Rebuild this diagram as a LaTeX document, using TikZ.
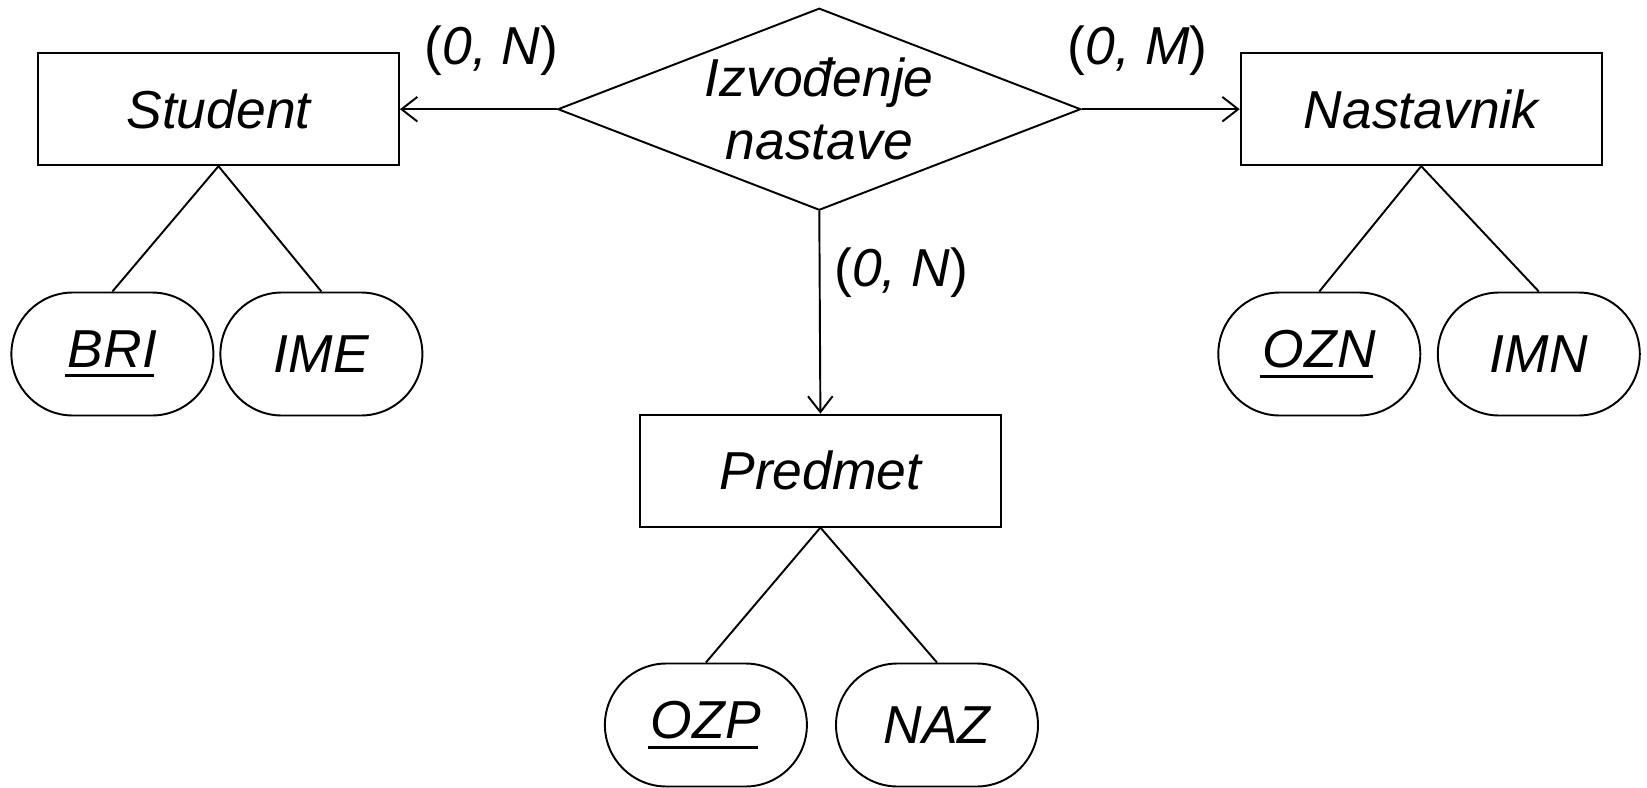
\documentclass[tikz,border=0pt]{standalone}
\usepackage{fontspec}
\setmainfont{Liberation Sans}
\usepackage{tikz}
\usetikzlibrary{shapes.misc, shapes.geometric, arrows.meta}
% underlined key attribute
\newcommand{\keyattr}[1]{\setbox0\hbox{#1}\rlap{\hspace{-0.05em}\rule[-2.9pt]{\wd0}{0.85pt}}#1}

\begin{document}
\begin{tikzpicture}[>={Straight Barb[length=4.5pt,width=7pt]}, line width=0.55pt,
    font=\fontsize{15.2}{18}\selectfont\itshape]
        \tikzstyle{entity}=[draw, rectangle, minimum width=3.61cm, minimum height=1.12cm, inner sep=0pt]
        \tikzstyle{attr}=[draw, rounded rectangle, minimum width=2.02cm, minimum height=1.23cm, inner sep=0pt]
        \tikzstyle{rel}=[draw, diamond, aspect=2.6, minimum width=5.23cm, minimum height=2.02cm, inner sep=0pt, align=center]
        \tikzstyle{card}=[inner sep=0pt]
        \useasboundingbox (0,0) rectangle (16.47,7.87);

        % Entities
        \node (student)[entity] at (2.185,6.778) {Student};
        \node (nastavnik)[entity] at (14.212,6.778) {Nastavnik};
        \node (predmet)[entity] at (8.204,3.164) {Predmet};

        % Relationship
        \node (izv)[rel] at (8.193,6.778) {Izvođenje\\nastave};

        % Attributes
        \node (bri)[attr] at (1.124,4.33) {\keyattr{BRI}};
        \node (ime)[attr] at (3.214,4.33) {IME};
        \node (ozn)[attr] at (13.193,4.33) {\keyattr{OZN}};
        \node (imn)[attr] at (15.388,4.33) {IMN};
        \node (ozp)[attr] at (7.059,0.62) {\keyattr{OZP}};
        \node (naz)[attr] at (9.37,0.62) {NAZ};

        % Relationship arrows
        \draw[->] (izv.west) -- (student.east);
        \draw[->] (izv.east) -- (nastavnik.west);
        \draw[->] (izv.south) -- (predmet.north);

        % Cardinalities
        \node (c1)[card] at (4.916,7.366) {\upshape(\textit{0, N})};
        \node (c2)[card] at (11.376,7.366) {\upshape(\textit{0, M})};
        \node (c3)[card] at (9.012,5.14) {\upshape(\textit{0, N})};

        % Attribute links
        \draw (student.south) -- (bri.north);
        \draw (student.south) -- (ime.north);
        \draw (nastavnik.south) -- (ozn.north);
        \draw (nastavnik.south) -- (imn.north);
        \draw (predmet.south) -- (ozp.north);
        \draw (predmet.south) -- (naz.north);
    \end{tikzpicture}
\end{document}
